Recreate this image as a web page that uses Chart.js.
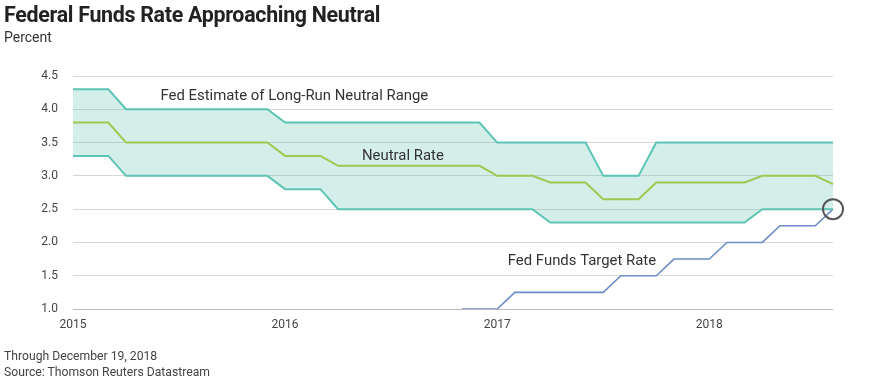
<!DOCTYPE html>
<html>
<head>
<meta charset="utf-8">
<script src="https://cdn.jsdelivr.net/npm/chart.js@4.4.1/dist/chart.umd.min.js"></script>
<style>
  body { margin: 0; background: #fff; font-family: Roboto, "Noto Sans", sans-serif; }
  #wrap { position: relative; width: 880px; height: 380px; }
  #title { position: absolute; left: 4px; top: 2px; font-size: 21.4px; font-weight: 700; color: #222; letter-spacing: -0.3px; }
  #sub { position: absolute; left: 4px; top: 29px; font-size: 14px; color: #333; }
  #foot { position: absolute; left: 4px; top: 348px; font-size: 12.2px; color: #444; line-height: 16px; }
  canvas { position: absolute; left: 0; top: 0; }
</style>
</head>
<body>
<div id="wrap">
  <canvas id="rateChart" width="880" height="380"></canvas>
  <div id="title">Federal Funds Rate Approaching Neutral</div>
  <div id="sub">Percent</div>
  <div id="foot">Through December 19, 2018<br>Source: Thomson Reuters Datastream</div>
</div>
<script>
// monthly points, Jan 2015 .. Aug 2018 (44 points)
const years = [2015, 2016, 2017, 2018];
const yTicks = [1.0, 1.5, 2.0, 2.5, 3.0, 3.5, 4.0, 4.5];

const rangeHigh = [4.3, 4.3, 4.3, 4.0, 4.0, 4.0, 4.0, 4.0, 4.0, 4.0, 4.0, 4.0,
  3.8, 3.8, 3.8, 3.8, 3.8, 3.8, 3.8, 3.8, 3.8, 3.8, 3.8, 3.8,
  3.5, 3.5, 3.5, 3.5, 3.5, 3.5, 3.0, 3.0, 3.0, 3.5, 3.5, 3.5,
  3.5, 3.5, 3.5, 3.5, 3.5, 3.5, 3.5, 3.5];
const neutralRate = [3.8, 3.8, 3.8, 3.5, 3.5, 3.5, 3.5, 3.5, 3.5, 3.5, 3.5, 3.5,
  3.3, 3.3, 3.3, 3.15, 3.15, 3.15, 3.15, 3.15, 3.15, 3.15, 3.15, 3.15,
  3.0, 3.0, 3.0, 2.9, 2.9, 2.9, 2.65, 2.65, 2.65, 2.9, 2.9, 2.9,
  2.9, 2.9, 2.9, 3.0, 3.0, 3.0, 3.0, 2.875];
const rangeLow = [3.3, 3.3, 3.3, 3.0, 3.0, 3.0, 3.0, 3.0, 3.0, 3.0, 3.0, 3.0,
  2.8, 2.8, 2.8, 2.5, 2.5, 2.5, 2.5, 2.5, 2.5, 2.5, 2.5, 2.5,
  2.5, 2.5, 2.5, 2.3, 2.3, 2.3, 2.3, 2.3, 2.3, 2.3, 2.3, 2.3,
  2.3, 2.3, 2.3, 2.5, 2.5, 2.5, 2.5, 2.5];
const targetRate = [null, null, null, null, null, null, null, null, null, null, null, null,
  null, null, null, null, null, null, null, null, null, null, 1.0, 1.0,
  1.0, 1.25, 1.25, 1.25, 1.25, 1.25, 1.25, 1.5, 1.5, 1.5, 1.75, 1.75,
  1.75, 2.0, 2.0, 2.0, 2.25, 2.25, 2.25, 2.5];

// in-chart labels: [text, x index, y value]
const notes = [
  ['Fed Estimate of Long-Run Neutral Range', 4.95, 4.2],
  ['Neutral Rate', 16.35, 3.29],
  ['Fed Funds Target Rate', 24.6, 1.71]
];

const months = [];
years.forEach(function(y){
  for (let m = 1; m <= 12; m++) months.push(y + '-' + m);
});
const labels = months.slice(0, rangeHigh.length);

const notesPlugin = {
  id: 'notes',
  afterDatasetsDraw(chart){
    const c = chart.ctx, xs = chart.scales.x, ys = chart.scales.y;
    c.save();
    c.font = '14.9px Roboto, "Noto Sans", sans-serif';
    c.fillStyle = '#333';
    c.textBaseline = 'middle';
    notes.forEach(function(n){
      c.fillText(n[0], xs.getPixelForValue(n[1]), ys.getPixelForValue(n[2]));
    });
    // ring on the latest target rate
    const last = targetRate.length - 1;
    c.beginPath();
    c.arc(xs.getPixelForValue(last), ys.getPixelForValue(targetRate[last]), 10, 0, Math.PI * 2);
    c.strokeStyle = '#555';
    c.lineWidth = 2;
    c.stroke();
    c.restore();
  }
};

new Chart(document.getElementById('rateChart'), {
  type: 'line',
  data: {
    labels: labels,
    datasets: [
      {label: 'High', data: rangeHigh, borderColor: '#5cc4b4', borderWidth: 2, pointRadius: 0,
       fill: '+2', backgroundColor: 'rgba(100,196,180,0.28)', tension: 0},
      {label: 'Neutral Rate', data: neutralRate, borderColor: '#b6c92a', borderWidth: 2, pointRadius: 0, fill: false},
      {label: 'Low', data: rangeLow, borderColor: '#5cc4b4', borderWidth: 2, pointRadius: 0, fill: false},
      {label: 'Fed Funds Target Rate', data: targetRate, borderColor: '#6c8dc6', borderWidth: 1.6, pointRadius: 0, fill: false}
    ]
  },
  options: {
    responsive: false,
    animation: false,
    layout: {padding: {left: 0, right: 47, top: 76, bottom: 0}},
    plugins: {legend: {display: false}, tooltip: {enabled: false}},
    scales: {
      x: {
        offset: false,
        grid: {display: false, drawTicks: false},
        border: {display: false},
        ticks: {
          autoSkip: false, maxRotation: 0, padding: 9, color: '#444',
          font: {size: 12, family: 'Roboto, "Noto Sans", sans-serif'},
          callback: function(v, i){ return i % 12 === 0 ? String(years[i / 12]) : ''; }
        },
        afterFit: function(s){ s.height = 71; }
      },
      y: {
        min: 1, max: 4.5,
        afterBuildTicks: function(s){ s.ticks = yTicks.map(function(v){ return {value: v}; }); },
        grid: {color: function(ctx){ return ctx.tick && ctx.tick.value === 1 ? '#bbbbbb' : '#d6d6d6'; }, drawTicks: false, lineWidth: 1},
        border: {display: false},
        ticks: {
          padding: 15, color: '#444',
          font: {size: 12, family: 'Roboto, "Noto Sans", sans-serif'},
          callback: function(v){ return Number(v).toFixed(1); }
        },
        afterFit: function(s){ s.width = 73; }
      }
    }
  },
  plugins: [notesPlugin]
});
</script>
</body>
</html>
